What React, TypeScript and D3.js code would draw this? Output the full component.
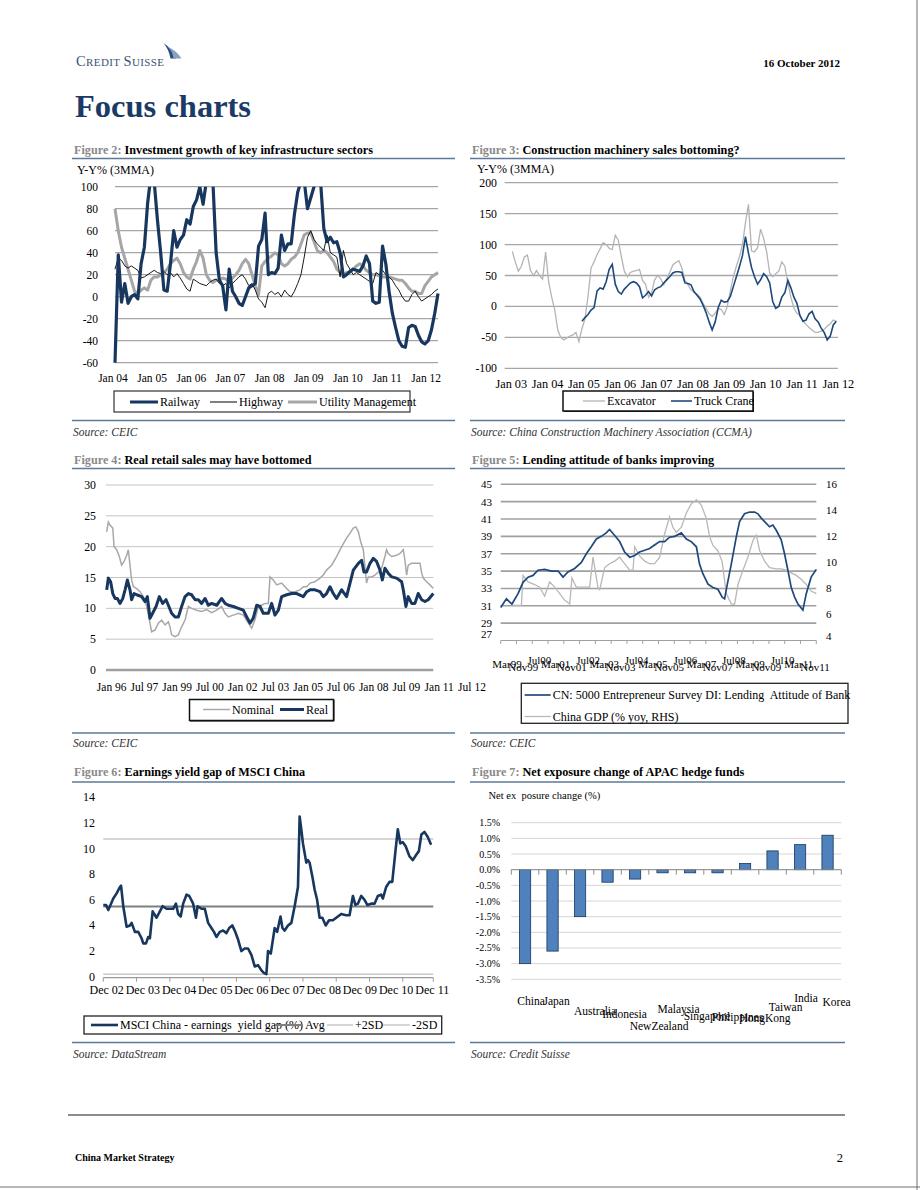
import React from 'react';
import * as d3 from 'd3';

const FONT = '"Liberation Serif","Times New Roman",Times,serif';
const NAVY = '#17375e';
const NAVY2 = '#1f497d';
const LGRAY = '#a6a6a6';
const RULE = '#5b7a99';
const GRID = '#a6a6a6';

// ---------- Figure 2: monthly from Jan 2004 ----------
const fig2Railway = [
  -60, 38, -5, 12, -6, 0, 2, -2, 30, 45,
  85, 110, 105, 70, 40, 6, 5, 30, 60, 45,
  52, 56, 70, 66, 82, 88, 100, 84, 105, 110,
  105, 40, 15, 10, -12, 25, 5, 0, -6, -8,
  0, 8, 10, 12, 46, 52, 76, 20, 22, 21,
  26, 56, 42, 48, 48, 75, 95, 105, 105, 80,
  90, 100, 110, 105, 62, 50, 54, 49, 50, 40,
  18, 20, 23, 25, 24, 23, 28, 37, 30, -4,
  -6, -5, 46, 30, 5, -15, -28, -40, -45, -46,
  -28, -26, -27, -35, -41, -43, -40, -30, -15, 3,
];
const fig2Highway = [
  25, 35, 33, 28, 26, 28, 26, 24, 17, 18,
  20, 22, 24, 22, 21, 23, 20, 22, 18, 21,
  17, 12, 7, 5, 16, 14, 12, 11, 10, 13,
  15, 16, 12, 10, 12, 8, 12, 15, 18, 20,
  16, 10, 12, 6, -2, -5, -10, 3, 5, 2,
  4, 0, 6, 2, 0, 5, 12, 20, 36, 54,
  60, 52, 48, 45, 42, 56, 40, 38, 36, 18,
  42, 30, 25, 20, 22, 20, 18, 16, 14, 12,
  22, 20, 24, 20, 18, 15, 10, 6, 0, -4,
  -4, 2, 5, 0, -4, -2, 0, 2, 5, 7,
];
const fig2Utility = [
  80, 60, 45, 35, 25, 15, 5, 3, 6, 8,
  6, 15, 18, 18, 20, 22, 25, 30, 33, 35,
  30, 22, 18, 16, 25, 32, 42, 35, 20, 15,
  13, 15, 15, 17, 16, 14, 17, 20, 24, 30,
  34, 30, 20, 10, 2, 28, 32, 35, 37, 40,
  38, 30, 28, 30, 34, 36, 40, 48, 56, 58,
  58, 50, 42, 40, 42, 40, 36, 32, 25, 22,
  20, 22, 22, 25, 28, 30, 28, 24, 22, 20,
  20, 19, 18, 18, 18, 17, 16, 15, 15, 12,
  8, 5, 5, 3, 3, 10, 14, 18, 20, 22,
];
const fig2YTicks = [100, 80, 60, 40, 20, 0, -20, -40, -60];
const fig2XLabels = ['Jan 04', 'Jan 05', 'Jan 06', 'Jan 07', 'Jan 08', 'Jan 09', 'Jan 10', 'Jan 11', 'Jan 12'];

// ---------- Figure 3: monthly from Jan 2003 ----------
const fig3Excavator = [
  89, 72, 57, 65, 80, 83, 58, 50, 58, 50,
  44, 88, 40, 15, -5, -38, -50, -54, -51, -48,
  -46, -42, -57, -36, -20, 16, 62, 72, 84, 93,
  103, 100, 94, 92, 115, 107, 81, 57, 48, 55,
  57, 58, 60, 42, 36, 15, 22, 43, 50, 45,
  35, 45, 55, 67, 71, 74, 62, 42, 35, 27,
  23, 20, 15, 5, -3, -12, -16, -11, -3, -5,
  -13, 0, 25, 48, 65, 80, 100, 135, 165, 90,
  88, 95, 125, 110, 88, 54, 48, 53, 57, 72,
  65, 38, 15, -3, -11, -14, -24, -29, -34, -38,
  -42, -42, -40, -37, -32, -28, -22, -24,
];
const fig3TruckStart = 23; // Dec 2004
const fig3TruckCrane = [
  -24, -18, -13, -6, -2, 25, 30, 28, 40, 60,
  68, 36, 24, 20, 28, 33, 38, 40, 38, 32,
  14, 18, 24, 17, 27, 30, 32, 38, 43, 48,
  54, 56, 56, 55, 38, 37, 35, 24, 18, 12,
  2, -10, -25, -38, -25, -2, 10, 7, 8, 16,
  32, 48, 64, 82, 113, 86, 63, 48, 36, 43,
  53, 48, 38, 8, -3, 0, 15, 22, 42, 30,
  15, 5, -15, -24, -22, -12, -8, -20, -25, -35,
  -42, -54, -48, -30, -24,
];
const fig3YTicks = [200, 150, 100, 50, 0, -50, -100];
const fig3XLabels = ['Jan 03', 'Jan 04', 'Jan 05', 'Jan 06', 'Jan 07', 'Jan 08', 'Jan 09', 'Jan 10', 'Jan 11', 'Jan 12'];

// ---------- Figure 4: [months since Jan 1996, %] ----------
const fig4Nominal: [number, number][] = [
  [0, 22.4], [1, 24.0], [2, 23.5], [3.7, 23.0], [4.5, 20.0], [6.1, 19.5], [7.7, 18.4], [9.1, 17.0],
  [10.6, 17.6], [12.2, 18.6], [13.2, 19.5], [14.2, 17.0], [15.2, 14.6], [16.3, 13.5], [18.3, 13.2],
  [20.3, 12.7], [22.4, 11.9], [24.4, 10.3], [26.4, 7.6], [27.4, 6.2], [29.5, 6.5], [31.5, 7.6],
  [33.5, 8.1], [35.6, 7.3], [37.6, 7.8], [38.6, 7.0], [39.6, 5.7], [41.7, 5.4], [43.7, 5.7],
  [45.7, 7.0], [47.8, 8.1], [49.8, 10.3], [51.8, 10.0], [54.9, 9.7], [57.9, 9.5], [61.0, 9.8],
  [64.0, 9.3], [67.1, 9.7], [70.1, 10.3], [72.2, 9.2], [74.2, 8.6], [77.2, 8.9], [80.3, 9.2],
  [83.3, 8.9], [86.4, 7.6], [88.4, 6.8], [90.4, 8.1], [92.5, 10.3], [94.5, 10.5], [96.5, 10.8],
  [98.6, 10.8], [99.6, 15.1], [101.6, 14.6], [103.7, 13.8], [106.7, 14.1], [109.8, 13.2],
  [111.8, 12.7], [114.8, 12.7], [117.9, 13.0], [119.9, 13.5], [122.0, 13.5], [124.0, 14.1],
  [127.0, 14.3], [130.1, 14.9], [132.1, 15.4], [134.1, 16.2], [137.2, 17.0], [140.2, 18.4],
  [143.3, 20.0], [146.3, 21.4], [148.4, 22.2], [150.4, 23.0], [152.0, 23.2], [153.5, 22.4],
  [154.9, 20.8], [156.5, 19.5], [157.5, 16.8], [158.5, 14.1], [159.6, 15.1], [161.6, 15.1],
  [163.6, 15.4], [165.7, 15.9], [167.7, 16.5], [169.7, 18.4], [170.7, 19.5], [171.7, 18.9],
  [173.8, 18.4], [176.8, 18.6], [178.9, 18.9], [180.9, 19.5], [181.9, 17.8], [182.9, 15.4],
  [183.9, 17.0], [186.0, 17.3], [189.0, 17.3], [191.1, 17.3], [192.1, 15.7], [193.1, 14.9],
  [195.1, 14.3], [197.2, 13.8], [199.2, 13.2],
];
const fig4Real: [number, number][] = [
  [0, 13.0], [1, 14.9], [2.4, 14.3], [3.7, 12.4], [5.1, 11.6], [6.5, 11.6], [8.1, 10.8], [9.8, 11.6],
  [11.2, 13.0], [12.6, 14.6], [14.2, 13.0], [15.2, 11.4], [16.7, 12.4], [18.3, 12.2], [21.3, 11.9],
  [23.4, 11.1], [24.8, 11.9], [26.4, 8.4], [28.0, 9.2], [30.1, 10.3], [32.1, 11.9], [34.1, 10.8],
  [36.2, 11.4], [37.6, 10.5], [39.6, 9.2], [41.7, 8.6], [43.7, 8.6], [45.7, 10.3], [47.8, 11.9],
  [49.8, 12.4], [51.8, 12.2], [53.9, 11.4], [55.9, 11.4], [57.9, 10.8], [60.0, 11.6], [62.0, 10.5],
  [64.0, 10.8], [67.1, 10.5], [70.1, 11.6], [72.2, 10.8], [74.2, 10.5], [77.2, 10.3], [80.3, 10.0],
  [83.3, 9.7], [85.4, 8.6], [87.4, 7.6], [89.4, 8.4], [91.5, 10.5], [93.5, 10.3], [95.5, 9.2],
  [98.6, 9.2], [100.6, 10.8], [102.6, 8.9], [104.7, 9.7], [106.7, 11.9], [109.8, 12.2],
  [112.8, 12.4], [115.9, 12.4], [119.9, 11.9], [122.0, 12.7], [124.0, 13.0], [127.0, 13.0],
  [130.1, 12.7], [132.1, 11.9], [134.1, 12.4], [136.2, 13.5], [138.2, 12.4], [140.2, 11.6],
  [143.3, 13.0], [146.3, 11.9], [148.4, 14.1], [150.4, 16.2], [153.5, 17.3], [155.5, 17.8],
  [156.9, 15.9], [158.5, 15.9], [160.6, 17.3], [162.6, 18.1], [164.6, 17.6], [166.7, 16.2],
  [168.1, 14.6], [169.7, 16.5], [171.7, 15.7], [173.8, 15.1], [176.8, 14.9], [179.9, 14.3],
  [180.9, 13.0], [182.5, 10.3], [183.9, 11.9], [186.0, 10.8], [188.0, 10.8], [190.0, 12.4],
  [192.1, 11.4], [194.1, 11.1], [196.1, 11.4], [199.2, 12.4],
];
const fig4YTicks = [0, 5, 10, 15, 20, 25, 30];
const fig4XLabels = ['Jan 96', 'Jul 97', 'Jan 99', 'Jul 00', 'Jan 02', 'Jul 03', 'Jan 05', 'Jul 06', 'Jan 08', 'Jul 09', 'Jan 11', 'Jul 12'];

// ---------- Figure 5: [months since Mar 1999, value] ----------
const fig5Lending: [number, number][] = [
  [0, 30.8], [2.9, 31.8], [5.7, 31.2], [8.8, 32.4], [11.3, 33.7], [13.9, 34.3], [16.4, 34.5],
  [18.9, 35.1], [22.3, 35.2], [25.7, 35.0], [29.1, 35.0], [31.6, 34.3], [34.1, 34.9], [37.5, 35.3],
  [40.9, 36.0], [43.4, 37.0], [45.9, 37.8], [48.5, 38.7], [51.0, 39.0], [53.5, 39.4], [55.2, 39.8],
  [57.8, 39.1], [60.3, 38.4], [62.8, 37.2], [65.4, 36.6], [67.9, 36.8], [70.4, 37.2], [73.0, 37.4],
  [75.5, 37.6], [78.0, 38.0], [80.6, 38.4], [83.1, 38.4], [85.6, 38.9], [88.2, 39.0], [91.6, 39.4],
  [94.1, 38.7], [96.6, 38.4], [99.2, 37.8], [100.8, 35.8], [102.5, 34.7], [105.1, 33.5],
  [107.6, 33.1], [110.1, 32.9], [112.3, 32.0], [113.5, 31.8], [114.9, 33.5], [116.9, 35.8],
  [119.4, 38.9], [121.1, 40.7], [123.6, 41.6], [126.2, 41.8], [128.7, 41.8], [130.4, 41.6],
  [132.1, 41.1], [133.8, 40.7], [136.3, 40.1], [138.0, 40.3], [139.7, 39.7], [142.2, 38.6],
  [143.9, 37.0], [145.6, 35.1], [147.3, 33.1], [149.0, 32.0], [150.7, 31.2], [153.2, 30.5],
  [154.9, 32.4], [157.4, 34.3], [160.0, 35.2],
];
const fig5GDP: [number, number][] = [
  [5.4, 6.7], [10.5, 6.7], [11.3, 9.0], [13.9, 8.5], [17.2, 8.3], [19.8, 8.1], [22.3, 7.4],
  [24.8, 8.5], [27.4, 8.1], [29.9, 7.6], [32.4, 7.1], [35.0, 6.8], [36.1, 8.8], [38.3, 8.1],
  [40.9, 8.1], [45.1, 8.1], [46.8, 10.4], [49.3, 8.1], [50.2, 7.9], [52.7, 9.6], [55.2, 9.9],
  [57.8, 10.1], [60.3, 10.4], [62.8, 9.9], [65.4, 9.4], [67.1, 9.4], [67.9, 11.2], [70.4, 10.5],
  [73.0, 10.1], [75.5, 9.9], [78.0, 9.9], [80.6, 10.4], [83.1, 12.2], [85.6, 13.5], [87.3, 12.7],
  [89.0, 12.3], [91.6, 12.7], [94.1, 13.8], [96.6, 14.5], [99.2, 14.8], [101.7, 14.4],
  [104.2, 13.4], [105.9, 12.0], [107.6, 11.3], [110.1, 10.9], [112.2, 10.1], [114.4, 7.6],
  [116.9, 6.8], [118.6, 6.8], [120.3, 8.3], [122.8, 9.4], [125.3, 10.4], [127.9, 11.7],
  [129.6, 12.1], [131.3, 10.9], [133.8, 10.1], [136.3, 9.6], [139.7, 9.5], [142.2, 9.5],
  [144.8, 9.4], [147.3, 9.2], [149.8, 9.0], [152.4, 8.7], [154.9, 8.3], [157.4, 7.8], [160.0, 7.6],
];
const fig5LeftTicks = [27, 29, 31, 33, 35, 37, 39, 41, 43, 45];
const fig5RightTicks = [4, 6, 8, 10, 12, 14, 16];
const fig5XLabels = ['Mar99', 'Nov99', 'Jul00', 'Mar01', 'Nov01', 'Jul02', 'Mar03', 'Nov03', 'Jul04', 'Mar05',
  'Nov05', 'Jul06', 'Mar07', 'Nov07', 'Jul08', 'Mar09', 'Nov09', 'Jul10', 'Mar11', 'Nov11'];

// ---------- Figure 6: [months since Dec 2002, %] ----------
const fig6Gap: [number, number][] = [
  [0, 5.6], [1.0, 5.6], [1.8, 5.2], [2.4, 5.5], [3.6, 6.1], [4.8, 6.5], [6.0, 7.0], [6.4, 7.1],
  [7.2, 5.5], [8.4, 3.9], [9.6, 4.0], [10.2, 4.2], [11.4, 3.5], [12.6, 3.5], [13.8, 3.0],
  [14.4, 2.6], [15.4, 2.6], [16.2, 3.1], [16.8, 3.0], [17.8, 5.1], [19.2, 4.6], [20.4, 5.1],
  [21.4, 5.5], [22.8, 5.3], [24.0, 5.3], [25.2, 5.3], [26.2, 5.7], [27.0, 4.9], [27.9, 4.7],
  [28.8, 5.7], [30.0, 6.4], [31.0, 6.3], [32.4, 5.7], [33.4, 4.6], [34.0, 5.5], [35.4, 5.3],
  [36.6, 5.3], [37.8, 4.2], [39.0, 3.8], [39.9, 3.5], [40.8, 3.1], [42.0, 3.5], [43.2, 3.6],
  [44.4, 3.4], [45.4, 3.8], [46.5, 4.0], [47.4, 3.6], [48.6, 2.9], [49.8, 2.0], [51.0, 2.2],
  [52.2, 2.2], [53.4, 1.7], [54.6, 0.8], [55.8, 0.9], [57.0, 0.5], [57.9, 0.3], [58.8, 0.2],
  [59.4, 2.0], [60.4, 1.8], [61.8, 3.8], [62.7, 3.5], [63.9, 4.7], [64.6, 3.8], [65.4, 3.6],
  [66.6, 4.0], [67.8, 4.2], [69.0, 5.5], [70.2, 7.0], [70.8, 12.5], [71.4, 11.5], [72.0, 10.4],
  [73.2, 8.9], [73.8, 9.1], [74.4, 8.9], [75.4, 7.8], [76.2, 6.8], [77.1, 6.0], [78.0, 4.6],
  [79.0, 4.6], [80.2, 4.0], [81.4, 4.4], [82.8, 4.4], [84.6, 4.7], [85.8, 4.9], [87.6, 4.8],
  [88.8, 4.8], [90.0, 6.3], [90.9, 5.6], [91.8, 5.7], [93.0, 6.3], [94.2, 6.0], [95.2, 5.6],
  [96.6, 5.7], [97.8, 5.7], [99.0, 6.3], [100.2, 6.4], [100.8, 6.1], [102.0, 7.0], [103.2, 7.4],
  [104.2, 7.4], [105.4, 9.9], [106.2, 11.5], [107.1, 10.4], [108.0, 10.5], [109.0, 10.2],
  [110.4, 9.4], [111.6, 9.1], [112.8, 9.5], [113.8, 9.8], [114.7, 11.1], [115.8, 11.3],
  [117.0, 10.9], [118.2, 10.3],
];
const fig6Avg = 5.47;
const fig6Plus2SD = 10.75;
const fig6Minus2SD = 0.19;
const fig6YTicks = [0, 2, 4, 6, 8, 10, 12, 14];
const fig6XLabels = ['Dec 02', 'Dec 03', 'Dec 04', 'Dec 05', 'Dec 06', 'Dec 07', 'Dec 08', 'Dec 09', 'Dec 10', 'Dec 11'];

// ---------- Figure 7 ----------
const fig7Countries = ['China', 'Japan', 'Australia', 'Indonesia', 'NewZealand', 'Malaysia', 'Singapore', 'Philippines', 'HongKong', 'Taiwan', 'India', 'Korea'];
const fig7Values = [-3.0, -2.6, -1.5, -0.4, -0.3, -0.1, -0.1, -0.1, 0.2, 0.6, 0.8, 1.1];
const fig7YTicks = [1.5, 1.0, 0.5, 0.0, -0.5, -1.0, -1.5, -2.0, -2.5, -3.0, -3.5];
// label layout (Excel's staggered category labels)
const fig7LabelDx = [6, 4, 15, 17, 24, 16, 17, 20, 20, 13, 6, 9];
const fig7LabelY = [1004.5, 1004.5, 1014.5, 1018, 1029.5, 1013, 1020, 1021.3, 1022.3, 1010.5, 1002, 1006];

type P = [number, number];

function Title({ x, y, num, text }: { x: number; y: number; num: number; text: string }) {
  return (
    <text x={x} y={y} fontSize={12.2} fontWeight="bold">
      <tspan fill="#8a8a8a">{`Figure ${num}: `}</tspan>
      <tspan fill="#000">{text}</tspan>
    </text>
  );
}

function Frame({ x1, x2, ty, uy, sy, sty, num, title, source }: any) {
  return (
    <g>
      <Title x={x1 + 2} y={ty} num={num} text={title} />
      <line x1={x1} x2={x2} y1={uy} y2={uy} stroke={RULE} strokeWidth={1.6} />
      <line x1={x1} x2={x2} y1={sy} y2={sy} stroke={RULE} strokeWidth={1.6} />
      <text x={x1 + 1} y={sty} fontSize={11.5} fontStyle="italic" fill="#333">{source}</text>
    </g>
  );
}

function LegendItem({ x1, x2, y, text, stroke, sw }: any) {
  return (
    <g>
      <line x1={x1} x2={x2} y1={y} y2={y} stroke={stroke} strokeWidth={sw} />
      <text x={x2 + 2} y={y + 4} fontSize={12} style={{ whiteSpace: 'pre' }}>{text}</text>
    </g>
  );
}

function Fig2() {
  const x = d3.scaleLinear().domain([0, fig2Railway.length - 1]).range([115, 438]);
  const y = d3.scaleLinear().domain([-60, 100]).range([362.7, 186.7]);
  const line = d3.line<number>().x((_, i) => x(i)).y((d) => y(d));
  return (
    <g>
      <defs>
        <clipPath id="clip2"><rect x={110} y={y(100)} width={335} height={y(-60) - y(100) + 3} /></clipPath>
      </defs>
      <text x={77} y={174} fontSize={12}>Y-Y% (3MMA)</text>
      {fig2YTicks.map((t) => (
        <g key={t}>
          <line x1={x(0)} x2={x(fig2Railway.length - 1)} y1={y(t)} y2={y(t)} stroke={GRID} strokeWidth={1.3} />
          <text x={98} y={y(t) + 4} textAnchor="end" fontSize={11.5}>{t}</text>
        </g>
      ))}
      {fig2XLabels.map((l, i) => (
        <text key={l} x={x(i * 12) - 2} y={382} textAnchor="middle" fontSize={11.5}>{l}</text>
      ))}
      <g clipPath="url(#clip2)">
        <path d={line(fig2Utility) || ''} fill="none" stroke={LGRAY} strokeWidth={3} strokeLinejoin="round" />
        <path d={line(fig2Highway) || ''} fill="none" stroke="#000" strokeWidth={0.9} />
        <path d={line(fig2Railway) || ''} fill="none" stroke={NAVY} strokeWidth={3.2} strokeLinejoin="round" />
      </g>
      <rect x={114} y={391} width={296} height={21} fill="none" stroke="#333" strokeWidth={1.2} />
      <LegendItem x1={130} x2={158} y={402} text="Railway" stroke={NAVY} sw={3} />
      <LegendItem x1={210} x2={237} y={402} text="Highway" stroke="#000" sw={1} />
      <LegendItem x1={288} x2={317} y={402} text="Utility Management" stroke={LGRAY} sw={3} />
    </g>
  );
}

function Fig3() {
  const n = fig3Excavator.length;
  const x = d3.scaleLinear().domain([0, n - 1]).range([512.3, 836.3]);
  const y = d3.scaleLinear().domain([-100, 200]).range([368.3, 182.7]);
  const lineA = d3.line<number>().x((_, i) => x(i)).y((d) => y(d));
  const lineB = d3.line<number>().x((_, i) => x(i + fig3TruckStart)).y((d) => y(d));
  return (
    <g>
      <text x={477} y={173} fontSize={12}>Y-Y% (3MMA)</text>
      {fig3YTicks.map((t) => (
        <g key={t}>
          <line x1={504.7} x2={838} y1={y(t)} y2={y(t)} stroke={GRID} strokeWidth={1.3} />
          <text x={497} y={y(t) + 4} textAnchor="end" fontSize={11.8}>{t}</text>
        </g>
      ))}
      {fig3XLabels.map((l, i) => (
        <text key={l} x={x(i * 12) - 1} y={387.5} textAnchor="middle" fontSize={12.3}>{l}</text>
      ))}
      <path d={lineA(fig3Excavator) || ''} fill="none" stroke="#b4b4b4" strokeWidth={1.3} />
      <path d={lineB(fig3TruckCrane) || ''} fill="none" stroke={NAVY2} strokeWidth={1.6} />
      <rect x={563} y={391} width={190} height={20} fill="none" stroke="#111" strokeWidth={1.5} />
      <line x1={564} x2={754} y1={411.5} y2={411.5} stroke="#111" strokeWidth={1} />
      <line x1={753.5} x2={753.5} y1={392} y2={412} stroke="#111" strokeWidth={1} />
      <LegendItem x1={583} x2={605} y={401} text="Excavator" stroke="#b4b4b4" sw={1.3} />
      <LegendItem x1={671} x2={692} y={401} text="Truck Crane" stroke={NAVY2} sw={1.6} />
    </g>
  );
}

function Fig4() {
  const x = d3.scaleLinear().domain([0, 199.2]).range([106.7, 433.3]);
  const y = d3.scaleLinear().domain([0, 30]).range([670, 485]);
  const xl = d3.scalePoint<string>().domain(fig4XLabels).range([111.7, 472]);
  const line = d3.line<P>().x((d) => x(d[0])).y((d) => y(d[1]));
  return (
    <g>
      {fig4YTicks.map((t) => (
        <g key={t}>
          <line x1={106} x2={433.3} y1={y(t)} y2={y(t)} stroke={t === 0 ? '#a0a0a0' : '#c4c4c4'} strokeWidth={t === 0 ? 2.4 : 1} />
          <text x={96} y={y(t) + 4} textAnchor="end" fontSize={11.8}>{t}</text>
        </g>
      ))}
      {fig4XLabels.map((l) => (
        <text key={l} x={xl(l)} y={691} textAnchor="middle" fontSize={11.5}>{l}</text>
      ))}
      <path d={line(fig4Nominal) || ''} fill="none" stroke="#a8a8a8" strokeWidth={1.5} />
      <path d={line(fig4Real) || ''} fill="none" stroke={NAVY} strokeWidth={3} strokeLinejoin="round" />
      <rect x={189.5} y={699.5} width={144} height={21} fill="none" stroke="#111" strokeWidth={1.5} />
      <line x1={190} x2={334} y1={721} y2={721} stroke="#111" strokeWidth={1} />
      <line x1={334} x2={334} y1={700} y2={721} stroke="#111" strokeWidth={1} />
      <LegendItem x1={203} x2={230} y={709.5} text="Nominal" stroke="#a8a8a8" sw={1.5} />
      <LegendItem x1={280} x2={304} y={709.5} text="Real" stroke={NAVY} sw={3} />
    </g>
  );
}

function Fig5() {
  const x = d3.scaleLinear().domain([0, 160]).range([500.7, 816.3]);
  const yL = d3.scaleLinear().domain([27, 45]).range([640.5, 484.3]);
  const yR = d3.scaleLinear().domain([4, 16]).range([640.5, 484.3]);
  const xl = d3.scalePoint<string>().domain(fig5XLabels).range([507, 815]);
  const lineL = d3.line<P>().x((d) => x(d[0])).y((d) => yL(d[1]));
  const lineR = d3.line<P>().x((d) => x(d[0])).y((d) => yR(d[1]));
  const rowDy = [0, 3.5, -3.5];
  const ticks = d3.range(0, 161, 8);
  return (
    <g>
      {fig5LeftTicks.map((t) => (
        <g key={t}>
          {t !== 27 && <line x1={500.7} x2={816.3} y1={yL(t)} y2={yL(t)} stroke="#a0a0a0" strokeWidth={1.6} />}
          <text x={492} y={yL(t) + 4 - (t === 27 ? 7 : 0)} textAnchor="end" fontSize={11}>{t}</text>
        </g>
      ))}
      {fig5RightTicks.map((t) => (
        <text key={t} x={826} y={yR(t) + 4 - (t === 4 ? 5 : 0)} fontSize={11}>{t}</text>
      ))}
      <line x1={500.7} x2={816.3} y1={640.5} y2={640.5} stroke="#a0a0a0" strokeWidth={1} />
      {ticks.map((t) => (
        <line key={t} x1={x(t)} x2={x(t)} y1={640.5} y2={644} stroke="#a0a0a0" strokeWidth={1} />
      ))}
      {fig5XLabels.map((l, i) => (
        <text key={l} x={xl(l)} y={667.5 + rowDy[i % 3]} textAnchor="middle" fontSize={11}>{l}</text>
      ))}
      <path d={lineR(fig5GDP) || ''} fill="none" stroke="#b8b8b8" strokeWidth={1.3} />
      <path d={lineL(fig5Lending) || ''} fill="none" stroke={NAVY2} strokeWidth={1.7} />
      <rect x={521.3} y={683.3} width={326.7} height={40} fill="none" stroke="#222" strokeWidth={1.3} />
      <LegendItem x1={524.7} x2={550.7} y={695} text="CN: 5000 Entrepreneur Survey DI: Lending  Attitude of Bank" stroke={NAVY2} sw={1.7} />
      <LegendItem x1={524.7} x2={550.7} y={716.5} text="China GDP (% yoy, RHS)" stroke="#b8b8b8" sw={1.3} />
    </g>
  );
}

function Fig6() {
  const x = d3.scaleLinear().domain([0, 119]).range([103.3, 433.3]);
  const y = d3.scaleLinear().domain([0, 14]).range([976.7, 797.3]);
  const xl = d3.scalePoint<string>().domain(fig6XLabels).range([106.7, 432.3]);
  const line = d3.line<P>().x((d) => x(d[0])).y((d) => y(d[1]));
  const ticks = [...d3.range(0, 109, 12), 119];
  return (
    <g>
      {fig6YTicks.map((t) => (
        <text key={t} x={95} y={y(t) + 4} textAnchor="end" fontSize={12}>{t}</text>
      ))}
      <line x1={x(0)} x2={x(119)} y1={y(fig6Plus2SD)} y2={y(fig6Plus2SD)} stroke="#c8c8c8" strokeWidth={1.5} />
      <line x1={x(0)} x2={x(119)} y1={y(fig6Minus2SD)} y2={y(fig6Minus2SD)} stroke="#c8c8c8" strokeWidth={1.5} />
      <line x1={x(0)} x2={x(119)} y1={y(fig6Avg)} y2={y(fig6Avg)} stroke="#7f7f7f" strokeWidth={2} />
      <line x1={x(0)} x2={x(119)} y1={y(0) + 1} y2={y(0) + 1} stroke="#9a9a9a" strokeWidth={1.2} />
      {ticks.map((t) => (
        <line key={t} x1={x(t)} x2={x(t)} y1={y(0) + 1} y2={y(0) + 5} stroke="#9a9a9a" strokeWidth={1} />
      ))}
      {fig6XLabels.map((l) => (
        <text key={l} x={xl(l)} y={994} textAnchor="middle" fontSize={12}>{l}</text>
      ))}
      <path d={line(fig6Gap) || ''} fill="none" stroke={NAVY} strokeWidth={2.6} strokeLinejoin="round" />
      <rect x={84} y={1016} width={357.7} height={18} fill="none" stroke="#222" strokeWidth={1.3} />
      <LegendItem x1={91} x2={118} y={1025} text="MSCI China - earnings  yield gap (%)" stroke={NAVY} sw={2.6} />
      <LegendItem x1={275} x2={303} y={1025} text="Avg" stroke="#7f7f7f" sw={2} />
      <LegendItem x1={327} x2={353} y={1025} text="+2SD" stroke="#c8c8c8" sw={1.5} />
      <LegendItem x1={383} x2={410} y={1025} text="-2SD" stroke="#c8c8c8" sw={1.5} />
    </g>
  );
}

function Fig7() {
  const xb = d3.scaleBand<string>().domain(fig7Countries).range([511.3, 841.3]).paddingInner(0.59).paddingOuter(0.295);
  const y = d3.scaleLinear().domain([-3.5, 1.5]).range([979.3, 822.7]);
  const step = xb.step();
  return (
    <g>
      <text x={488.5} y={799} fontSize={10.5} style={{ whiteSpace: 'pre' }}>Net ex  posure change (%)</text>
      {fig7YTicks.map((t) => (
        <g key={t}>
          <line x1={511.3} x2={841.3} y1={y(t)} y2={y(t)} stroke="#d6d6d6" strokeWidth={1} />
          <text x={500} y={y(t) + 3.5} textAnchor="end" fontSize={10}>{`${t.toFixed(1)}%`}</text>
        </g>
      ))}
      {fig7Countries.map((c, i) => {
        const v = fig7Values[i];
        return (
          <rect key={c} x={xb(c)} y={y(Math.max(0, v))} width={xb.bandwidth()} height={Math.abs(y(v) - y(0))}
            fill="#4f81bd" stroke={NAVY} strokeWidth={0.8} />
        );
      })}
      <line x1={511.3} x2={841.3} y1={y(0)} y2={y(0)} stroke="#8c8c8c" strokeWidth={1} />
      {d3.range(0, fig7Countries.length + 1).map((k) => (
        <line key={k} x1={511.3 + k * step} x2={511.3 + k * step} y1={y(0)} y2={y(0) + 5} stroke="#8c8c8c" strokeWidth={1} />
      ))}
      {fig7Countries.map((c, i) => (
        <text key={c} x={(xb(c) || 0) + xb.bandwidth() / 2 + fig7LabelDx[i]} y={fig7LabelY[i]} textAnchor="middle" fontSize={11.5}>{c}</text>
      ))}
    </g>
  );
}

function Header() {
  return (
    <g>
      <path d="M163.5,43 Q169,49.5 170.5,58.5 L176,58.5 Q172,48.5 163.5,43 Z" fill="#2b4c7e" />
      <path d="M167.5,46.5 Q177,51 181.5,58.5 L173.5,58.5 Q172.5,51 167.5,46.5 Z" fill="#8aa0bf" />
      <text x={76} y={65.7} fill="#3c5270" letterSpacing={0.4}>
        <tspan fontSize={14.5}>C</tspan><tspan fontSize={11}>REDIT </tspan><tspan fontSize={14.5}>S</tspan><tspan fontSize={11}>UISSE</tspan>
      </text>
      <text x={840} y={66.5} textAnchor="end" fontSize={11} fontWeight="bold">16 October 2012</text>
      <text x={75} y={117} fontSize={32.5} fontWeight="bold" fill="#1b3a66">Focus charts</text>
    </g>
  );
}

function Footer() {
  return (
    <g>
      <line x1={68} x2={845} y1={1115} y2={1115} stroke="#8c8c8c" strokeWidth={1.8} />
      <text x={75} y={1161} fontSize={10} fontWeight="bold">China Market Strategy</text>
      <text x={843} y={1162} textAnchor="end" fontSize={12.5}>2</text>
      <line x1={917} x2={917} y1={0} y2={1190} stroke="#6e6e6e" strokeWidth={1} />
      <line x1={0} x2={920} y1={1187} y2={1187} stroke="#6e6e6e" strokeWidth={1} />
    </g>
  );
}

export default function App() {
  return (
    <svg width={920} height={1190} viewBox="0 0 920 1190" fontFamily={FONT}
      style={{ position: 'absolute', left: 0, top: 0, background: '#fff' }}>
      <rect x={0} y={0} width={920} height={1190} fill="#fff" />
      <Header />
      <Frame x1={72} x2={455} ty={154} uy={158.5} sy={420.5} sty={435.5} num={2}
        title="Investment growth of key infrastructure sectors" source="Source: CEIC" />
      <Frame x1={470} x2={845} ty={154} uy={158.5} sy={420.5} sty={435.5} num={3}
        title="Construction machinery sales bottoming?" source="Source: China Construction Machinery Association (CCMA)" />
      <Frame x1={72} x2={455} ty={463.5} uy={468.5} sy={733} sty={747} num={4}
        title="Real retail sales may have bottomed" source="Source: CEIC" />
      <Frame x1={470} x2={845} ty={463.5} uy={468.5} sy={733} sty={747} num={5}
        title="Lending attitude of banks improving" source="Source: CEIC" />
      <Frame x1={72} x2={455} ty={776} uy={782} sy={1042.5} sty={1058} num={6}
        title="Earnings yield gap of MSCI China" source="Source: DataStream" />
      <Frame x1={470} x2={845} ty={776} uy={782} sy={1042.5} sty={1058} num={7}
        title="Net exposure change of APAC hedge funds" source="Source: Credit Suisse" />
      <Fig2 />
      <Fig3 />
      <Fig4 />
      <Fig5 />
      <Fig6 />
      <Fig7 />
      <Footer />
    </svg>
  );
}
